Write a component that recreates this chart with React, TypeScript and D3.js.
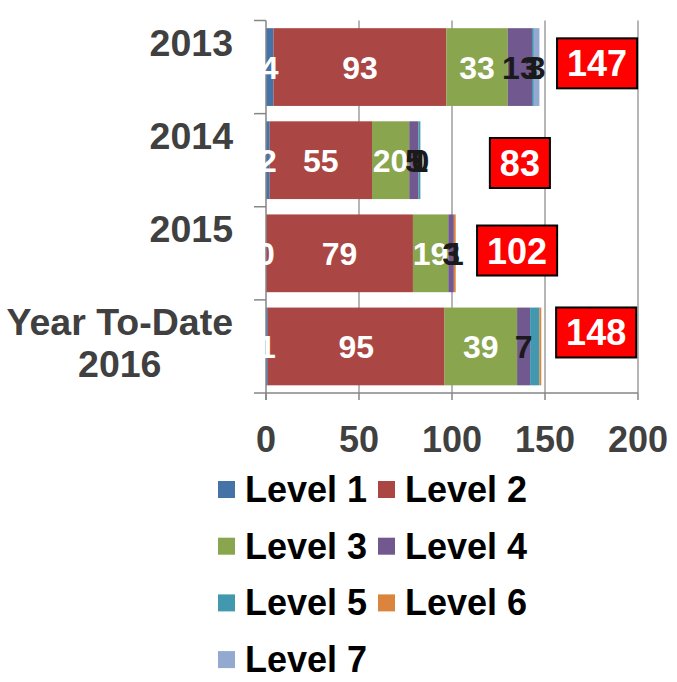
import React from "react";
import * as d3 from "d3";

const categories: string[][] = [["2013"], ["2014"], ["2015"], ["Year To-Date", "2016"]];
const seriesNames = ["Level 1", "Level 2", "Level 3", "Level 4", "Level 5", "Level 6", "Level 7"];
const seriesColors = ["#4572A7", "#AA4643", "#89A54E", "#71588F", "#4198AF", "#DB843D", "#93A9CF"];
const level1 = [4, 2, 0, 1];
const level2 = [93, 55, 79, 95];
const level3 = [33, 20, 19, 39];
const level4 = [13, 5, 3, 7];
const level5 = [1, 1, 0, 5];
const level6 = [0, 0, 1, 1];
const level7 = [3, 0, 0, 0];
const totals = [147, 83, 102, 148];
// label visibility per series (rows) per category (cols)
const labelShown = [
  [1, 1, 1, 1],
  [1, 1, 1, 1],
  [1, 1, 1, 1],
  [1, 1, 1, 1],
  [1, 1, 0, 0],
  [0, 1, 1, 0],
  [1, 0, 0, 0],
];
// total callout positions, in data units (x value) and band fraction (y)
const totalAtValue = [178, 136.5, 135, 177.5];
const totalAtBand = [0.46, 0.53, 0.47, 0.35];
const xTicks = [0, 50, 100, 150, 200];

const seriesValues = [level1, level2, level3, level4, level5, level6, level7];
const FONT = "'Liberation Sans', Arial, sans-serif";

function measure(text: string, size: number): number {
  const c = document.createElement("canvas").getContext("2d");
  if (!c) return text.length * size * 0.556;
  c.font = `bold ${size}px ${FONT}`;
  return c.measureText(text).width;
}

export default function App() {
  const W = 677, H = 682;
  const x = d3.scaleLinear().domain([0, 200]).range([266, 638]);
  const y = d3
    .scaleBand<number>()
    .domain(categories.map((_, i) => i))
    .range([20.5, 393])
    .paddingInner(0.165)
    .paddingOuter(0.0825);
  const step = y.step();
  const y0 = 20.5;
  const stack = d3
    .stack<number>()
    .keys(seriesNames.map((_, i) => String(i)))
    .value((ci, key) => seriesValues[+key][ci]);
  const stacked = stack(categories.map((_, i) => i));
  const gray = "#868686";
  const textCol = "#404040";

  return (
    <svg width={W} height={H} style={{ position: "absolute", left: 0, top: 0 }} fontFamily={FONT}>
      {/* gridlines */}
      {xTicks.slice(1).map((t) => (
        <line key={t} x1={x(t)} x2={x(t)} y1={y0} y2={393} stroke={gray} strokeWidth={1.2} />
      ))}
      {/* bars */}
      {stacked.map((s, si) =>
        s.map((d, ci) => (
          <rect
            key={`${si}-${ci}`}
            x={x(d[0])}
            width={Math.max(0, x(d[1]) - x(d[0]))}
            y={y(ci)}
            height={y.bandwidth()}
            fill={seriesColors[si]}
          />
        ))
      )}
      {/* axes */}
      <line x1={266} x2={266} y1={y0} y2={400} stroke={gray} strokeWidth={1.5} />
      <line x1={266} x2={638} y1={393} y2={393} stroke={gray} strokeWidth={1.5} />
      {categories.map((_, i) => (
        <line key={i} x1={254} x2={266} y1={y0 + i * step} y2={y0 + i * step} stroke={gray} strokeWidth={1.5} />
      ))}
      <line x1={254} x2={266} y1={y0 + categories.length * step} y2={y0 + categories.length * step} stroke={gray} strokeWidth={1.5} />
      {xTicks.map((t) => (
        <g key={t}>
          <line x1={x(t)} x2={x(t)} y1={393} y2={400} stroke={gray} strokeWidth={1.5} />
          <text x={x(t)} y={452} textAnchor="middle" fontSize={36} fontWeight="bold" fill={textCol}>
            {t}
          </text>
        </g>
      ))}
      {/* category labels */}
      {categories.map((lines, i) => {
        const bc = (y(i) ?? 0) + y.bandwidth() / 2;
        const fs = 37.5;
        const maxW = Math.max(...lines.map((l) => measure(l, fs)));
        const cx = 233 - maxW / 2;
        return lines.map((l, li) => (
          <text
            key={`${i}-${li}`}
            x={cx}
            y={bc - 11 + li * 42}
            textAnchor="middle"
            fontSize={fs}
            fontWeight="bold"
            fill={textCol}
          >
            {l}
          </text>
        ));
      })}
      {/* segment labels */}
      {stacked.map((s, si) =>
        s.map((d, ci) =>
          labelShown[si][ci] ? (
            <text
              key={`l${si}-${ci}`}
              x={(x(d[0]) + x(d[1])) / 2}
              y={(y(ci) ?? 0) + y.bandwidth() / 2 + 11.5}
              textAnchor="middle"
              fontSize={32}
              fontWeight="bold"
              fill={si < 3 ? "#ffffff" : "#1a1a1a"}
            >
              {seriesValues[si][ci]}
            </text>
          ) : null
        )
      )}
      {/* totals */}
      {totals.map((t, i) => {
        const cx = x(totalAtValue[i]);
        const cy = y0 + (i + totalAtBand[i]) * step;
        const w = measure(String(t), 36) + 20;
        const h = 50;
        return (
          <g key={`t${i}`}>
            <rect x={cx - w / 2} y={cy - h / 2} width={w} height={h} fill="#FF0000" stroke="#000" strokeWidth={2} />
            <text x={cx} y={cy + 13} textAnchor="middle" fontSize={36} fontWeight="bold" fill="#fff">
              {t}
            </text>
          </g>
        );
      })}
      {/* legend */}
      {seriesNames.map((n, i) => {
        const col = i % 2;
        const row = Math.floor(i / 2);
        const bx = col === 0 ? 218 : 378;
        const base = 502 + row * 56.7;
        return (
          <g key={n}>
            <rect x={bx} y={base - 21} width={17} height={17} fill={seriesColors[i]} />
            <text x={bx + 27} y={base} fontSize={36} fontWeight="bold" fill="#000">
              {n}
            </text>
          </g>
        );
      })}
    </svg>
  );
}
